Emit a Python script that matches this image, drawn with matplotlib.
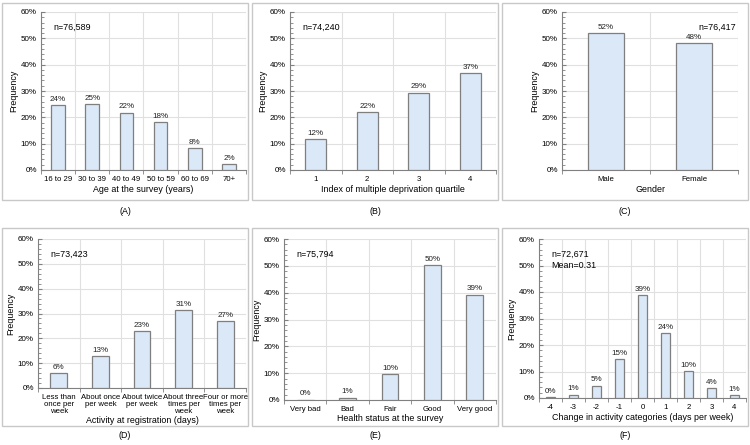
import numpy as np
import matplotlib.pyplot as plt
from matplotlib.patches import Rectangle
from matplotlib.ticker import MultipleLocator, FuncFormatter

plt.rcParams['font.family'] = ['Liberation Sans', 'DejaVu Sans']

# ----- data (percent) -----
age_cats = ['16 to 29', '30 to 39', '40 to 49', '50 to 59', '60 to 69', '70+']
age_vals = [24.5, 25.2, 21.8, 18.1, 8.3, 2.3]
age_lbls = ['24%', '25%', '22%', '18%', '8%', '2%']

imd_cats = ['1', '2', '3', '4']
imd_vals = [11.8, 22.1, 29.4, 36.8]
imd_lbls = ['12%', '22%', '29%', '37%']

sex_cats = ['Male', 'Female']
sex_vals = [52.1, 48.2]
sex_lbls = ['52%', '48%']

act_cats = ['Less than\nonce per\nweek', 'About once\nper week', 'About twice\nper week',
            'About three\ntimes per\nweek', 'Four or more\ntimes per\nweek']
act_vals = [5.9, 12.7, 22.8, 31.3, 26.8]
act_lbls = ['6%', '13%', '23%', '31%', '27%']

hlth_cats = ['Very bad', 'Bad', 'Fair', 'Good', 'Very good']
hlth_vals = [0.15, 0.9, 9.7, 50.2, 39.3]
hlth_lbls = ['0%', '1%', '10%', '50%', '39%']

chg_cats = ['-4', '-3', '-2', '-1', '0', '1', '2', '3', '4']
chg_vals = [0.4, 1.3, 4.7, 14.6, 39.0, 24.6, 10.3, 3.8, 1.0]
chg_lbls = ['0%', '1%', '5%', '15%', '39%', '24%', '10%', '4%', '1%']

W, H = 750, 445
fig = plt.figure(figsize=(7.5, 4.45), dpi=100)

def px_axes(l, t, r, b):
    return fig.add_axes([l / W, 1 - b / H, (r - l) / W, (b - t) / H])

def box(l, t, r, b):
    fig.patches.append(Rectangle((l / W, 1 - b / H), (r - l) / W, (b - t) / H,
                                 transform=fig.transFigure, fill=False,
                                 edgecolor='#c8c8c8', linewidth=1.0))

def panel(ax, cats, vals, lbls, xlabel, note, note_right=False, lpad=2):
    x = np.arange(len(cats))
    ax.bar(x, vals, width=0.4, color='#dae8f7', edgecolor='#7f7f7f', linewidth=0.9, zorder=3)
    for xi, v, s in zip(x, vals, lbls):
        ax.text(xi, v + 0.8, s, ha='center', va='bottom', fontsize=5.8, color='#222222')
    ax.set_xlim(-0.5, len(cats) - 0.5)
    ax.set_ylim(0, 60)
    ax.set_xticks(x)
    ax.set_xticklabels(cats, fontsize=5.6, linespacing=1.0)
    ax.set_xticks(np.arange(len(cats) + 1) - 0.5, minor=True)
    ax.yaxis.set_major_locator(MultipleLocator(10))
    ax.yaxis.set_minor_locator(MultipleLocator(2))
    ax.yaxis.set_major_formatter(FuncFormatter(lambda v, p: '%d%%' % v))
    ax.tick_params(axis='y', labelsize=5.8, length=3, direction='in', color='#808080', pad=3)
    ax.tick_params(axis='y', which='minor', length=2, direction='in', color='#808080')
    ax.tick_params(axis='x', which='major', length=0, pad=4)
    ax.tick_params(axis='x', which='minor', length=3, direction='out', color='#808080')
    ax.grid(axis='y', which='major', color='#e0e0e0', linewidth=0.8, zorder=0)
    ax.grid(axis='x', which='minor', color='#e0e0e0', linewidth=0.8, zorder=0)
    for side in ['top', 'right']:
        ax.spines[side].set_visible(False)
    for side in ['left', 'bottom']:
        ax.spines[side].set_color('#808080')
        ax.spines[side].set_linewidth(0.8)
    ax.set_ylabel('Frequency', fontsize=6.4, labelpad=2)
    ax.set_xlabel(xlabel, fontsize=6.4, labelpad=lpad)
    if note_right:
        ax.text(0.99, 0.93, note, transform=ax.transAxes, ha='right', va='top', fontsize=6.4)
    else:
        ax.text(0.06, 0.93, note, transform=ax.transAxes, ha='left', va='top', fontsize=6.4,
                linespacing=1.3)

# top row
box(2, 3, 248, 200)
box(252, 3, 498, 200)
box(502, 3, 748, 200)
# bottom row
box(2, 228, 248, 426)
box(252, 228, 498, 426)
box(502, 228, 748, 426)

axA = px_axes(41, 12, 246, 170)
panel(axA, age_cats, age_vals, age_lbls, 'Age at the survey (years)', 'n=76,589')
axB = px_axes(290, 12, 496, 170)
panel(axB, imd_cats, imd_vals, imd_lbls, 'Index of multiple deprivation quartile', 'n=74,240')
axC = px_axes(562, 12, 738, 170)
panel(axC, sex_cats, sex_vals, sex_lbls, 'Gender', 'n=76,417', note_right=True)
axD = px_axes(38, 239, 246, 388)
panel(axD, act_cats, act_vals, act_lbls, 'Activity at registration (days)', 'n=73,423', lpad=1)
axE = px_axes(284, 239, 496, 400)
panel(axE, hlth_cats, hlth_vals, hlth_lbls, 'Health status at the survey', 'n=75,794', lpad=1)
axF = px_axes(539, 239, 746, 398)
panel(axF, chg_cats, chg_vals, chg_lbls, 'Change in activity categories (days per week)',
      'n=72,671\nMean=0.31', lpad=1.5)

for lbl, xc, yc in [('(A)', 125, 212), ('(B)', 375, 212), ('(C)', 625, 212),
                    ('(D)', 125, 435), ('(E)', 375, 435), ('(F)', 625, 435)]:
    fig.text(xc / W, 1 - yc / H, lbl, ha='center', va='center', fontsize=6.4)

fig.savefig('out.png', dpi=100)
